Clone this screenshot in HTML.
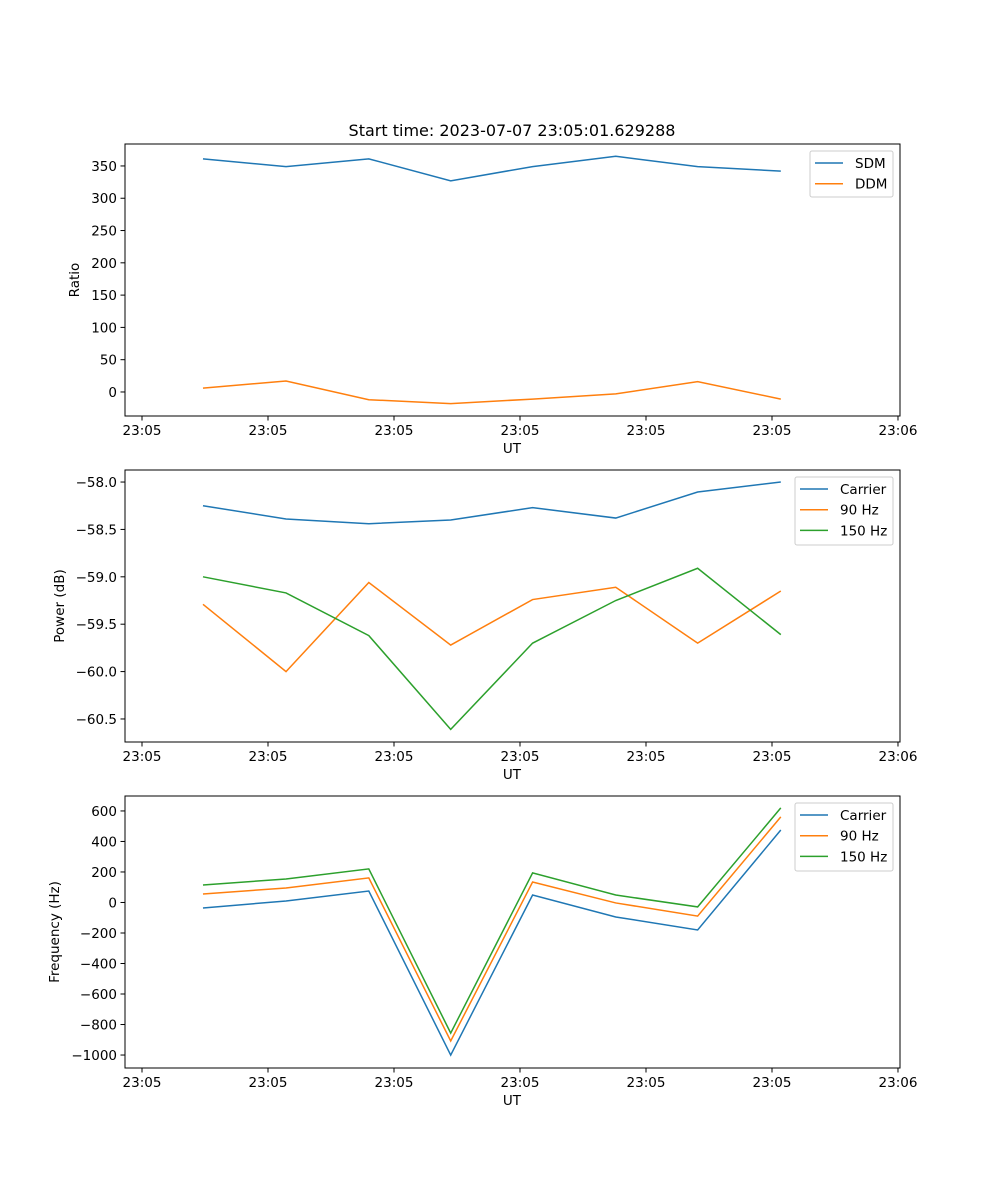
<!DOCTYPE html>
<html><head><meta charset="utf-8">
<style>
html,body{margin:0;padding:0;background:#fff;}
svg{display:block;font-family:"DejaVu Sans","Liberation Sans",sans-serif;}
</style></head>
<body>
<svg id="fig" width="1000" height="1200" viewBox="0 0 1000 1200" xmlns="http://www.w3.org/2000/svg">
<rect width="1000" height="1200" fill="#fff"/>
<text x="512" y="136" text-anchor="middle" font-size="16">Start time: 2023-07-07 23:05:01.629288</text>
</svg>
<script>
const times = [4.84, 11.43, 18.0, 24.5, 31.0, 37.6, 44.1, 50.7];
const xTickVals = [0, 10, 20, 30, 40, 50, 60];
const xTickLabels = ["23:05","23:05","23:05","23:05","23:05","23:05","23:06"];
const sdm = [361, 349, 361, 327, 349, 365, 349, 342];
const ddm = [6, 17, -12, -18, -11, -3, 16, -11];
const ratioTicks = [0, 50, 100, 150, 200, 250, 300, 350];
const powCarrier = [-58.25, -58.39, -58.44, -58.40, -58.27, -58.38, -58.105, -58.0];
const pow90 = [-59.29, -60.0, -59.06, -59.72, -59.24, -59.11, -59.70, -59.15];
const pow150 = [-59.0, -59.17, -59.62, -60.61, -59.70, -59.25, -58.91, -59.61];
const powTicks = [-58.0, -58.5, -59.0, -59.5, -60.0, -60.5];
const freqCarrier = [-36, 10, 75, -1000, 49, -95, -180, 475];
const freq90 = [56, 95, 161, -908, 134, -3, -89, 561];
const freq150 = [115, 154, 220, -856, 194, 49, -29, 620];
const freqTicks = [600, 400, 200, 0, -200, -400, -600, -800, -1000];

const NS = "http://www.w3.org/2000/svg";
const svg = document.getElementById('fig');
function mk(tag, attrs, parent){const e=document.createElementNS(NS,tag);for(const k in attrs)e.setAttribute(k,attrs[k]);(parent||svg).appendChild(e);return e;}
const L=125,R=900,xmin=-1.35,xmax=60.16;
function xs(v){return L+(v-xmin)/(xmax-xmin)*(R-L);}
const C={b:"#1f77b4",o:"#ff7f0e",g:"#2ca02c"};

function panel(name,top,bottom,ymin,ymax,ticks,fmt,ylabel,ylabelX,series,legend){
  const g=mk('g',{});
  
  
  const ys=v=>bottom-(v-ymin)/(ymax-ymin)*(bottom-top);
  series.forEach(s=>{
    const p=mk('polyline',{points:s.vals.map((v,i)=>xs(times[i]).toFixed(2)+','+ys(v).toFixed(2)).join(' '),fill:'none',stroke:s.c,'stroke-width':1.5},g);
    
    
  });
  const fr=mk('rect',{x:L,y:top,width:R-L,height:bottom-top,fill:'none',stroke:'#000','stroke-width':1},g);
  
  
  xTickVals.forEach((v,i)=>{
    const x=xs(v);
    mk('line',{x1:x,x2:x,y1:bottom,y2:bottom+4.5,stroke:'#000','stroke-width':1},g);
    const t=mk('text',{x:x,y:bottom+19,'text-anchor':'middle','font-size':13.5},g);
    
    
    t.textContent=xTickLabels[i];
  });
  const xl=mk('text',{x:512,y:bottom+37,'text-anchor':'middle','font-size':13.5},g);
  
  
  xl.textContent='UT';
  ticks.forEach(v=>{
    const y=ys(v);
    mk('line',{x1:L-4.5,x2:L,y1:y,y2:y,stroke:'#000','stroke-width':1},g);
    const t=mk('text',{x:L-8,y:y+5,'text-anchor':'end','font-size':13.5},g);
    
    
    t.textContent=fmt(v);
  });
  const cy=(top+bottom)/2;
  const yl=mk('text',{x:ylabelX,y:cy,'text-anchor':'middle','font-size':13.5,transform:'rotate(-90 '+ylabelX+' '+cy+')'},g);
  
  
  yl.textContent=ylabel;
  const lg=mk('g',{},g);
  
  
  mk('rect',{x:legend.x,y:legend.y,width:legend.w,height:legend.h,rx:2,fill:'#fff','fill-opacity':0.8,stroke:'#ccc'},lg);
  series.forEach((s,i)=>{
    const ry=legend.y+12+i*20.7;
    mk('line',{x1:legend.x+5,x2:legend.x+33,y1:ry,y2:ry,stroke:s.c,'stroke-width':1.5},lg);
    const t=mk('text',{x:legend.x+45,y:ry+5,'font-size':13.5},lg);
    
    
    t.textContent=s.label;
  });
}
const minus=s=>s.replace('-','\u2212');
panel('ratio',144,416,-37.2,384,ratioTicks,v=>minus(String(v)),'Ratio',79,
  [{key:'sdm',label:'SDM',c:C.b,vals:sdm},{key:'ddm',label:'DDM',c:C.o,vals:ddm}],
  {x:810,y:151,w:83,h:46});
panel('power',470,742,-60.743,-57.873,powTicks,v=>minus(v.toFixed(1)),'Power (dB)',64,
  [{key:'carrier',label:'Carrier',c:C.b,vals:powCarrier},{key:'90hz',label:'90 Hz',c:C.o,vals:pow90},{key:'150hz',label:'150 Hz',c:C.g,vals:pow150}],
  {x:795,y:477,w:98,h:68});
panel('frequency',796,1068,-1085,698,freqTicks,v=>minus(String(v)),'Frequency (Hz)',59,
  [{key:'carrier',label:'Carrier',c:C.b,vals:freqCarrier},{key:'90hz',label:'90 Hz',c:C.o,vals:freq90},{key:'150hz',label:'150 Hz',c:C.g,vals:freq150}],
  {x:795,y:803,w:98,h:68});
</script>
</body></html>
